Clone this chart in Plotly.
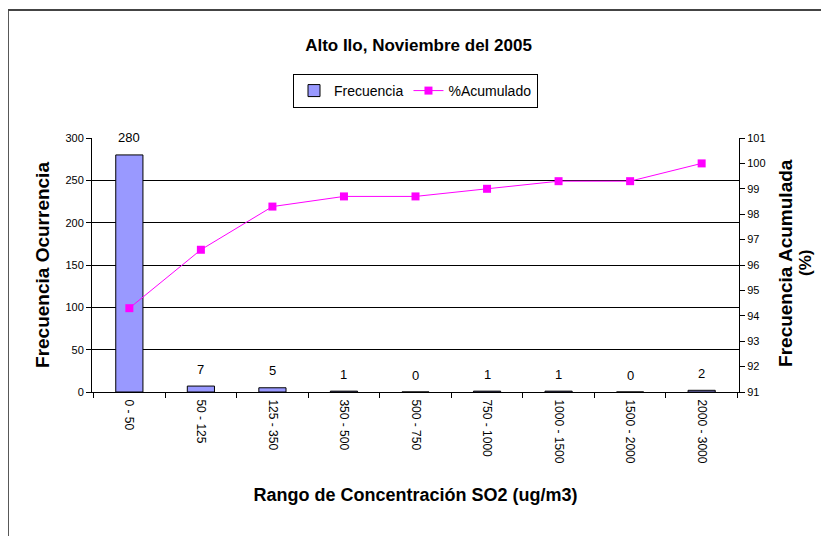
import plotly.graph_objects as go

# Rangos de concentración de SO2 (ug/m3)
rangos = ["0 - 50", "50 - 125", "125 - 350", "350 - 500", "500 - 750",
          "750 - 1000", "1000 - 1500", "1500 - 2000", "2000 - 3000"]
frecuencia = [280, 7, 5, 1, 0, 1, 1, 0, 2]
acumulado = [94.3, 96.6, 98.3, 98.7, 98.7, 99.0, 99.3, 99.3, 100.0]

fuente = "Liberation Sans, Arial, sans-serif"
fuente_narrow = "Liberation Sans Narrow, Arial Narrow, Liberation Sans, sans-serif"

fig = go.Figure()
fig.add_trace(go.Bar(
    x=rangos, y=frecuencia, name="Frecuencia",
    marker=dict(color="#9999FF", line=dict(color="black", width=1)),
    yaxis="y",
))
fig.add_trace(go.Scatter(
    x=rangos, y=acumulado, name="%Acumulado", mode="lines+markers",
    line=dict(color="#FF00FF", width=1),
    marker=dict(symbol="square", size=8, color="#FF00FF"),
    yaxis="y2",
))

# etiquetas de datos sobre las barras
for r, f in zip(rangos, frecuencia):
    fig.add_annotation(x=r, y=f, xref="x", yref="y", text=str(f), showarrow=False,
                       yshift=17, font=dict(family=fuente, size=13, color="black"))

# título del eje secundario en dos líneas
fig.add_annotation(x=1.0726, y=0.508, xref="paper", yref="paper", textangle=-90,
                   xanchor="center", yanchor="middle",
                   text="<b>Frecuencia Acumulada</b>", showarrow=False,
                   font=dict(family=fuente, size=19, color="black"))
fig.add_annotation(x=1.1036, y=0.508, xref="paper", yref="paper", textangle=-90,
                   xanchor="center", yanchor="middle",
                   text="<b>(%)</b>", showarrow=False,
                   font=dict(family=fuente, size=17, color="black"))

# marco exterior del gráfico
fig.add_shape(type="rect", xref="paper", yref="paper",
              x0=-0.13, y0=-0.75, x1=1.2, y1=1.504,
              line=dict(color="#444444", width=2), layer="below")

fig.update_layout(
    width=821, height=528,
    margin=dict(l=84, r=90, t=130, b=144),
    paper_bgcolor="white", plot_bgcolor="white",
    font=dict(family=fuente, color="black"),
    title=dict(text="<b>Alto Ilo, Noviembre del 2005</b>", x=0.5, xanchor="center",
               y=0.93, yanchor="middle",
               font=dict(family=fuente_narrow, size=17, color="black")),
    showlegend=True,
    legend=dict(orientation="h", x=0.5, xanchor="center", y=1.252, yanchor="top",
                bordercolor="black", borderwidth=1, bgcolor="white",
                font=dict(family=fuente_narrow, size=14, color="black"),
                itemwidth=30, traceorder="normal"),
    bargap=0.62,
    xaxis=dict(type="category", showline=True, linecolor="black", linewidth=1,
               ticks="outside", tickson="boundaries", ticklen=5, tickcolor="black",
               tickangle=90, tickfont=dict(family=fuente, size=12),
               ticklabelstandoff=4,
               title=dict(text="<b>Rango de Concentración SO2 (ug/m3)</b>",
                          font=dict(family=fuente, size=18), standoff=25),
               showgrid=False),
    yaxis=dict(range=[0, 300], dtick=50, showline=True, linecolor="black",
               ticks="outside", ticklen=5, tickcolor="black",
               showgrid=True, gridcolor="black", gridwidth=1, zeroline=False,
               tickfont=dict(family=fuente, size=11),
               title=dict(text="<b>Frecuencia Ocurrencia</b>",
                          font=dict(family=fuente, size=19), standoff=10)),
    yaxis2=dict(range=[91, 101], dtick=1, overlaying="y", side="right",
                showline=True, linecolor="black", ticks="outside", ticklen=5,
                tickcolor="black", showgrid=False, zeroline=False,
                tickfont=dict(family=fuente_narrow, size=11)),
)

fig.write_html("out.html")
